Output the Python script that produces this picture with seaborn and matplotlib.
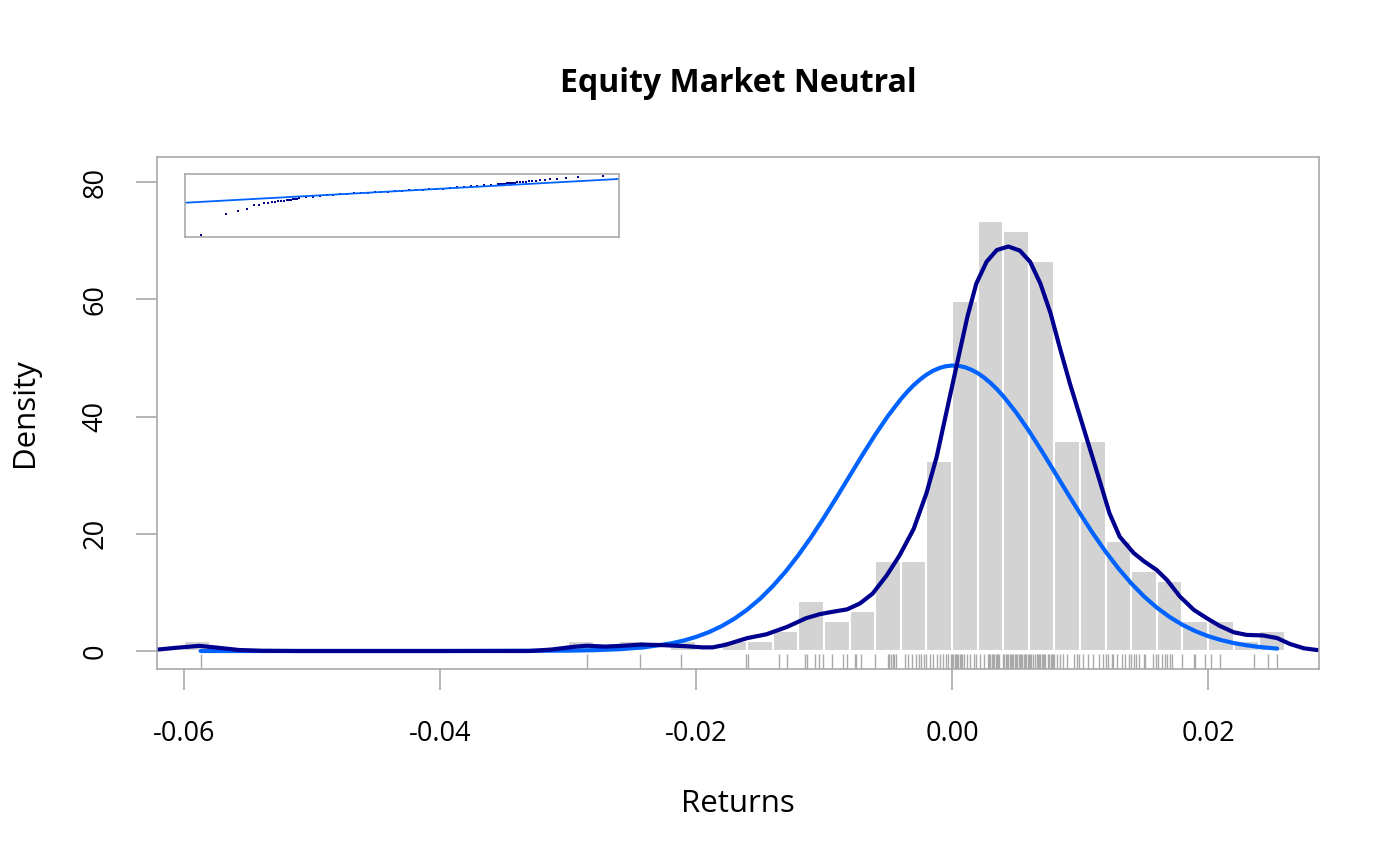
import numpy as np
import pandas as pd
import matplotlib
matplotlib.use("Agg")
import matplotlib.pyplot as plt
import seaborn as sns

# histogram: monthly return counts in 0.002 wide bins starting at -0.060
n_obs = 293
bin_start = -0.060
bin_width = 0.002
bin_counts = [1, 0, 0, 0, 0, 0, 0, 0, 0, 0, 0, 0, 0, 0, 0,
              1, 0, 1, 0, 1, 0, 1, 1, 2, 5, 3, 4, 9, 9, 19,
              35, 43, 42, 39, 21, 21, 11, 8, 7, 3, 3, 1, 2]

# kernel density of the returns (dark line)
kde_x = [-0.0640, -0.0625, -0.0606, -0.0588, -0.0574, -0.0557, -0.0539, -0.0510,
         -0.0330, -0.0313, -0.0295, -0.0285, -0.0271, -0.0257, -0.0243, -0.0226,
         -0.0208, -0.0195, -0.0187, -0.0177, -0.0160, -0.0145, -0.0129, -0.0114,
         -0.0103, -0.0093, -0.0082, -0.0072, -0.0062, -0.0051, -0.0041, -0.0030,
         -0.0020, -0.0012, -0.0004, 0.0004, 0.0012, 0.0019, 0.0027, 0.0035,
         0.0044, 0.0053, 0.0061, 0.0069, 0.0077, 0.0084, 0.0092, 0.0100,
         0.0108, 0.0116, 0.0123, 0.0131, 0.0142, 0.0150, 0.0160, 0.0168,
         0.0178, 0.0189, 0.0199, 0.0209, 0.0220, 0.0230, 0.0243, 0.0254,
         0.0264, 0.0275, 0.0285, 0.0300]
kde_y = [0.0, 0.15, 0.55, 0.88, 0.57, 0.17, 0.04, 0.0,
         0.0, 0.25, 0.73, 0.90, 0.75, 0.90, 1.10, 1.00,
         0.82, 0.62, 0.62, 1.05, 2.2, 2.85, 4.1, 5.6,
         6.3, 6.7, 7.1, 8.1, 9.8, 12.9, 16.3, 20.8,
         26.9, 33.1, 41.1, 49.1, 57.0, 62.7, 66.4, 68.4,
         69.0, 68.3, 66.4, 62.7, 57.6, 51.9, 45.7, 40.0,
         34.3, 28.6, 23.5, 19.5, 16.7, 15.3, 13.8, 12.1,
         9.3, 7.0, 5.6, 4.3, 3.2, 2.75, 2.65, 2.2,
         1.2, 0.46, 0.17, 0.03]

# fitted normal density (light blue line)
normal_x = [-0.0587, -0.040, -0.030, -0.028, -0.026, -0.024, -0.022, -0.021,
            -0.020, -0.019, -0.018, -0.017, -0.016, -0.015, -0.014, -0.013,
            -0.012, -0.011, -0.010, -0.009, -0.008, -0.007, -0.006, -0.005,
            -0.004, -0.0035, -0.003, -0.0025, -0.002, -0.0015, -0.001, -0.0005,
            0.000, 0.0005, 0.001, 0.0015, 0.002, 0.0025, 0.003, 0.0035,
            0.004, 0.005, 0.006, 0.007, 0.008, 0.009, 0.010, 0.011,
            0.012, 0.013, 0.014, 0.015, 0.016, 0.017, 0.018, 0.019,
            0.020, 0.021, 0.022, 0.023, 0.024, 0.0254]
normal_y = [0.0, 0.0, 0.06, 0.14, 0.30, 0.64, 1.28, 1.76,
            2.40, 3.21, 4.24, 5.51, 7.06, 8.90, 11.07, 13.55,
            16.36, 19.44, 22.78, 26.27, 29.86, 33.44, 36.90, 40.11,
            42.96, 44.21, 45.34, 46.30, 47.13, 47.78, 48.26, 48.57,
            48.70, 48.64, 48.41, 47.99, 47.41, 46.65, 45.74, 44.68,
            43.48, 40.72, 37.57, 34.15, 30.58, 26.99, 23.46, 20.08,
            16.94, 14.09, 11.54, 9.31, 7.40, 5.80, 4.47, 3.40,
            2.54, 1.88, 1.36, 0.98, 0.69, 0.41]

# individual returns for the rug
rug_returns = [-0.0587, -0.0285, -0.0244, -0.0212, -0.0161, -0.0159, -0.0135, -0.0129,
               -0.0115, -0.0113, -0.0107, -0.0104, -0.0101, -0.0094, -0.0085, -0.0082,
               -0.0076, -0.0075, -0.0071, -0.0060, -0.0050, -0.0049, -0.0048, -0.0046,
               -0.0045, -0.0044, -0.0037, -0.0034, -0.0031, -0.0028, -0.0026, -0.0024,
               -0.0022, -0.0020, -0.0017, -0.0015, -0.0012, -0.0009, -0.0007, -0.0005,
               -0.0003, -0.0001, 0.0000, 0.0001, 0.0002, 0.0003, 0.0004, 0.0005,
               0.0006, 0.0007, 0.0008, 0.0009, 0.0012, 0.0014, 0.0017, 0.0019,
               0.0022, 0.0025, 0.0028, 0.0029, 0.0030, 0.0031, 0.0032, 0.0033,
               0.0034, 0.0035, 0.0036, 0.0037, 0.0040, 0.0041, 0.0042, 0.0043,
               0.0044, 0.0045, 0.0046, 0.0047, 0.0048, 0.0049, 0.0050, 0.0051,
               0.0052, 0.0053, 0.0054, 0.0055, 0.0056, 0.0057, 0.0058, 0.0059,
               0.0060, 0.0061, 0.0062, 0.0063, 0.0065, 0.0066, 0.0067, 0.0068,
               0.0069, 0.0070, 0.0071, 0.0072, 0.0073, 0.0075, 0.0076, 0.0077,
               0.0078, 0.0079, 0.0080, 0.0082, 0.0084, 0.0087, 0.0090, 0.0095,
               0.0098, 0.0099, 0.0102, 0.0106, 0.0110, 0.0115, 0.0118, 0.0120,
               0.0122, 0.0125, 0.0126, 0.0129, 0.0133, 0.0135, 0.0138, 0.0140,
               0.0142, 0.0144, 0.0146, 0.0150, 0.0151, 0.0157, 0.0159, 0.0161,
               0.0164, 0.0166, 0.0168, 0.0170, 0.0172, 0.0180, 0.0189, 0.0190,
               0.0198, 0.0202, 0.0209, 0.0236, 0.0247, 0.0254]

# normal QQ inset: theoretical quantiles vs sample quantiles
qq_theoretical = [-2.927, -2.568, -2.385, -2.260, -2.161, -2.079, -2.011, -1.950,
                  -1.896, -1.846, -1.801, -1.760, -1.721, -1.684, -1.650, -1.617,
                  -1.586, -1.557, -1.529, -1.502,
                  -1.4, -1.3, -1.2, -1.1, -1.0, -0.9, -0.8, -0.7, -0.6, -0.5,
                  -0.4, -0.3, -0.2, -0.1, 0.0, 0.1, 0.2, 0.3, 0.4, 0.5,
                  0.6, 0.7, 0.8, 0.9, 1.0, 1.1, 1.2, 1.3,
                  1.404, 1.427, 1.451, 1.476, 1.502, 1.529, 1.557, 1.586,
                  1.617, 1.650, 1.684, 1.721, 1.760, 1.801, 1.846, 1.896,
                  1.950, 2.011, 2.079, 2.161, 2.260, 2.385, 2.568, 2.927]
qq_sample = [-0.0587, -0.0285, -0.0244, -0.0212, -0.0161, -0.0159, -0.0135, -0.0129,
             -0.0115, -0.0113, -0.0107, -0.0104, -0.0101, -0.0094, -0.0085, -0.0082,
             -0.0076, -0.0075, -0.0071, -0.0060,
             -0.0048, -0.0044, -0.0029, -0.0019, -0.0012, -0.0004, 0.0003, 0.0008, 0.0013, 0.0019,
             0.0024, 0.0029, 0.0035, 0.0040, 0.0045, 0.0051, 0.0057, 0.0062, 0.0068, 0.0073,
             0.0078, 0.0086, 0.0094, 0.0102, 0.0109, 0.0115, 0.0122, 0.0132,
             0.0140, 0.0142, 0.0144, 0.0146, 0.0150, 0.0151, 0.0157, 0.0159,
             0.0161, 0.0164, 0.0166, 0.0168, 0.0170, 0.0172, 0.0180, 0.0189,
             0.0190, 0.0198, 0.0202, 0.0209, 0.0210, 0.0236, 0.0247, 0.0254]
qq_intercept = 0.00447
qq_slope = 0.00542

BAR_GREY = "lightgray"
DENSITY_COL = "#00008F"
NORMAL_COL = "#0062FF"
FRAME_COL = "darkgray"

sns.set_theme(style="white")
plt.rcParams["font.family"] = ["Open Sans", "DejaVu Sans"]
plt.rcParams["text.color"] = "black"
plt.rcParams["axes.labelcolor"] = "black"
plt.rcParams["lines.solid_joinstyle"] = "round"
plt.rcParams["lines.solid_capstyle"] = "round"

fig = plt.figure(figsize=(14, 8.66), dpi=100)
ax = fig.add_axes([0.112143, 0.227483, 0.83, 0.591224])

n_bins = len(bin_counts)
mids = bin_start + bin_width * (np.arange(n_bins) + 0.5)
hist_df = pd.DataFrame({"ret": mids, "count": bin_counts})
sns.histplot(data=hist_df, x="ret", weights="count", bins=n_bins,
             binrange=(bin_start, bin_start + bin_width * n_bins), stat="density",
             color=BAR_GREY, edgecolor="white", linewidth=1.5, alpha=1, ax=ax)

sns.rugplot(x=rug_returns, height=0.029, color=FRAME_COL, linewidth=1.0,
            alpha=1, ax=ax)

sns.lineplot(x=normal_x, y=normal_y, color=NORMAL_COL, linewidth=3.0,
             estimator=None, ax=ax)
sns.lineplot(x=kde_x, y=kde_y, color=DENSITY_COL, linewidth=3.0,
             estimator=None, ax=ax)

ax.set_xlim(-0.06211, 0.02867)
ax.set_ylim(-3.07, 84.27)
ax.set_xticks([-0.06, -0.04, -0.02, 0.00, 0.02])
ax.set_xticklabels(["-0.06", "-0.04", "-0.02", "0.00", "0.02"])
ax.set_yticks([0, 20, 40, 60, 80])
ax.set_yticklabels(["0", "20", "40", "60", "80"], rotation=90, va="center")
ax.tick_params(axis="both", which="both", direction="out", length=15,
               width=1.2, color=FRAME_COL, labelsize=19.5, labelcolor="black")
ax.tick_params(axis="x", pad=22, bottom=True)
ax.tick_params(axis="y", pad=19, left=True)
for sp in ax.spines.values():
    sp.set_color(FRAME_COL)
    sp.set_linewidth(1.2)

ax.set_title("Equity Market Neutral", fontsize=23, fontweight="bold",
             color="black", pad=47)
ax.set_xlabel("Returns", fontsize=22.5, va="center")
ax.xaxis.set_label_coords(0.5, -0.2637)
ax.set_ylabel("Density", fontsize=22.5, va="center")
ax.yaxis.set_label_coords(-0.1136, 0.5)

# QQ inset in the top left corner
qax = fig.add_axes([0.132143, 0.726328, 0.31, 0.072748])
qax.set_facecolor("white")
sns.scatterplot(x=qq_theoretical, y=qq_sample, marker="s", s=3, color=DENSITY_COL,
                edgecolor=None, linewidth=0, ax=qax)
qax.axline((0, qq_intercept), slope=qq_slope, color=NORMAL_COL, linewidth=1.3)
qax.set_xlim(-3.164, 3.164)
qax.set_ylim(-0.06206, 0.02876)
qax.set_xticks([])
qax.set_yticks([])
qax.set_xlabel("")
qax.set_ylabel("")
for sp in qax.spines.values():
    sp.set_color(FRAME_COL)
    sp.set_linewidth(1.2)

fig.savefig("out.png", dpi=100)
